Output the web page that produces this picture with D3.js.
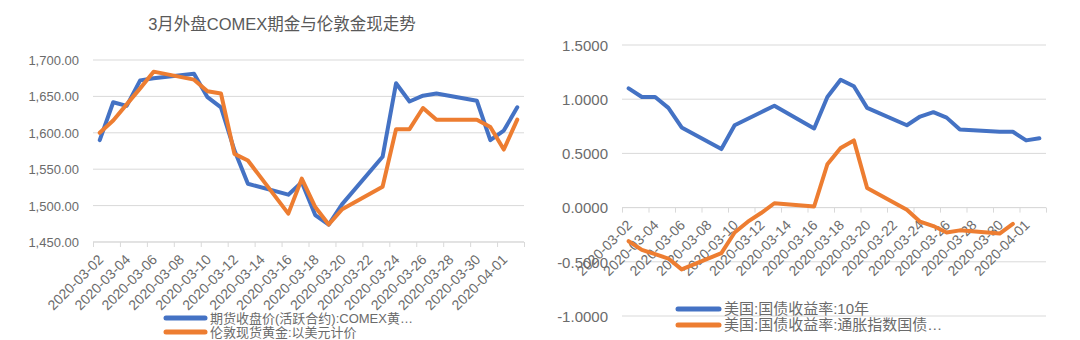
<!DOCTYPE html>
<html>
<head>
<meta charset="utf-8">
<script src="https://cdn.jsdelivr.net/npm/d3@7"></script>
<style>
  html, body { margin: 0; padding: 0; background: #fff; }
  svg { display: block; font-family: "Liberation Sans", "Noto Sans CJK SC", sans-serif; }
</style>
</head>
<body>
<svg id="chart" width="1080" height="340"></svg>
<script>
// Trading days shown on both charts
const tradingDays = [
  "2020-03-02","2020-03-03","2020-03-04","2020-03-05","2020-03-06",
  "2020-03-09","2020-03-10","2020-03-11","2020-03-12","2020-03-13",
  "2020-03-16","2020-03-17","2020-03-18","2020-03-19","2020-03-20",
  "2020-03-23","2020-03-24","2020-03-25","2020-03-26","2020-03-27",
  "2020-03-30","2020-03-31","2020-04-01","2020-04-02"
];

// Left chart: COMEX gold futures close and London spot gold (USD)
const comexClose = [1590, 1642, 1637, 1672, 1675, 1681, 1649, 1635, 1576, 1530,
                    1515, 1532, 1487, 1474, 1502, 1567, 1668, 1643, 1651, 1654,
                    1644, 1590, 1603, 1635];
const londonSpot = [1600, 1617, 1639, 1661, 1684, 1673, 1657, 1654, 1571, 1562,
                    1489, 1537, 1498, 1474, 1495, 1526, 1605, 1605, 1634, 1618,
                    1618, 1608, 1577, 1618];

// Right chart: US 10Y treasury yield and 10Y TIPS yield (TIPS ends on 03-31)
const us10y   = [1.10, 1.02, 1.02, 0.92, 0.74, 0.54, 0.76, 0.82, 0.88, 0.94,
                 0.73, 1.02, 1.18, 1.12, 0.92, 0.76, 0.84, 0.88, 0.83, 0.72,
                 0.70, 0.70, 0.62, 0.64];
const tips10y = [-0.31, -0.39, -0.43, -0.47, -0.57, -0.42, -0.23, -0.13, -0.05, 0.04,
                 0.01, 0.40, 0.55, 0.62, 0.18, -0.02, -0.13, -0.17, -0.23, -0.21,
                 -0.24, -0.15, null, null];

// Axis labels and ticks
const dateLabels = [
  "2020-03-02","2020-03-04","2020-03-06","2020-03-08","2020-03-10","2020-03-12",
  "2020-03-14","2020-03-16","2020-03-18","2020-03-20","2020-03-22","2020-03-24",
  "2020-03-26","2020-03-28","2020-03-30","2020-04-01"
];
const leftTicks  = [1450, 1500, 1550, 1600, 1650, 1700];
const rightTicks = [-1.0, -0.5, 0.0, 0.5, 1.0, 1.5];

const leftTitle = "3月外盘COMEX期金与伦敦金现走势";
const leftSeriesNames  = ["期货收盘价(活跃合约):COMEX黄…", "伦敦现货黄金:以美元计价"];
const rightSeriesNames = ["美国:国债收益率:10年", "美国:国债收益率:通胀指数国债…"];
const seriesColors = ["#4472C4", "#ED7D31"];

const parse = d3.timeParse("%Y-%m-%d");
const locale = d3.formatLocale({decimal: ".", thousands: ",", grouping: [3], currency: ["$", ""], minus: "-"});
const fmtLeft = locale.format(",.2f");
const fmtRight = locale.format(".4f");

const svg = d3.select("#chart");
const textColor = "#6b6b6b";
const gridColor = "#d9d9d9";

const dayStart = parse("2020-03-02");
const dayEnd = d3.timeDay.offset(parse("2020-04-02"), 1);
const center = d => d3.timeHour.offset(parse(d), 12);
const boundaries = d3.range(0, 33, 2).map(i => d3.timeDay.offset(dayStart, i));

function drawPanel(opt) {
  const x = d3.scaleTime().domain([dayStart, dayEnd]).range([opt.x0, opt.x1]);
  const y = d3.scaleLinear().domain(opt.yDomain).range([opt.yBottom, opt.yTop]);
  const g = svg.append("g");

  // horizontal gridlines
  g.append("g").selectAll("line").data(opt.ticks).join("line")
    .attr("x1", opt.x0).attr("x2", opt.x1)
    .attr("y1", d => y(d)).attr("y2", d => y(d))
    .attr("stroke", gridColor).attr("stroke-width", 1);

  // value axis labels
  const ya = g.append("g").attr("transform", `translate(${opt.yLabelX},0)`)
    .call(d3.axisLeft(y).tickValues(opt.ticks).tickSize(0).tickFormat(opt.fmt));
  ya.select(".domain").remove();
  ya.selectAll("text").attr("fill", textColor).attr("font-size", opt.yFont)
    .attr("font-family", null).attr("x", 0).attr("dy", "0.35em");

  // category (date) axis line and tick marks
  const axisY = y(opt.axisValue);
  const xa = g.append("g").attr("transform", `translate(0,${axisY})`)
    .call(d3.axisBottom(x).tickValues(boundaries).tickSize(5).tickFormat(""));
  xa.select(".domain").attr("stroke", gridColor).attr("d", `M${opt.x0},0H${opt.x1}`);
  xa.selectAll(".tick line").attr("stroke", gridColor);

  // rotated date labels
  g.append("g").selectAll("text").data(dateLabels).join("text")
    .attr("transform", d => `translate(${x(center(d)) + 1},${axisY + 15}) rotate(-45)`)
    .attr("text-anchor", "end").attr("dy", "0.35em")
    .attr("font-size", 14).attr("fill", textColor)
    .text(d => d);

  // series lines
  opt.series.forEach((vals, k) => {
    const pts = tradingDays.map((d, i) => ({d: center(d), v: vals[i]}));
    const line = d3.line().defined(p => p.v != null).x(p => x(p.d)).y(p => y(p.v));
    g.append("path").datum(pts).attr("d", line)
      .attr("fill", "none").attr("stroke", seriesColors[k])
      .attr("stroke-width", 4).attr("stroke-linejoin", "round").attr("stroke-linecap", "round");
  });

  // legend
  opt.names.forEach((name, k) => {
    const ly = opt.legendY + k * opt.legendGap;
    g.append("line").attr("x1", opt.legendX).attr("x2", opt.legendX + opt.swatch)
      .attr("y1", ly).attr("y2", ly)
      .attr("stroke", seriesColors[k]).attr("stroke-width", 5).attr("stroke-linecap", "round");
    g.append("text").attr("x", opt.legendX + opt.swatch + 5).attr("y", ly)
      .attr("dy", "0.35em").attr("font-size", opt.legendFont).attr("fill", textColor)
      .text(name);
  });
  return g;
}

// Left panel: gold prices
drawPanel({
  x0: 93, x1: 524, yTop: 60, yBottom: 242, yDomain: [1450, 1700],
  ticks: leftTicks, fmt: fmtLeft, yLabelX: 79, yFont: 13, axisValue: 1450,
  series: [comexClose, londonSpot], names: leftSeriesNames,
  legendX: 166, legendY: 318, legendGap: 14, swatch: 39, legendFont: 13
});

svg.append("text").attr("x", 282).attr("y", 24).attr("dy", "0.35em")
  .attr("text-anchor", "middle").attr("font-size", 16.5).attr("fill", "#595959")
  .text(leftTitle);

// Right panel: treasury yields
drawPanel({
  x0: 622, x1: 1046, yTop: 45, yBottom: 316, yDomain: [-1.0, 1.5],
  ticks: rightTicks, fmt: fmtRight, yLabelX: 608, yFont: 15, axisValue: 0,
  series: [us10y, tips10y], names: rightSeriesNames,
  legendX: 678, legendY: 309, legendGap: 16, swatch: 41, legendFont: 15
});
</script>
</body>
</html>
